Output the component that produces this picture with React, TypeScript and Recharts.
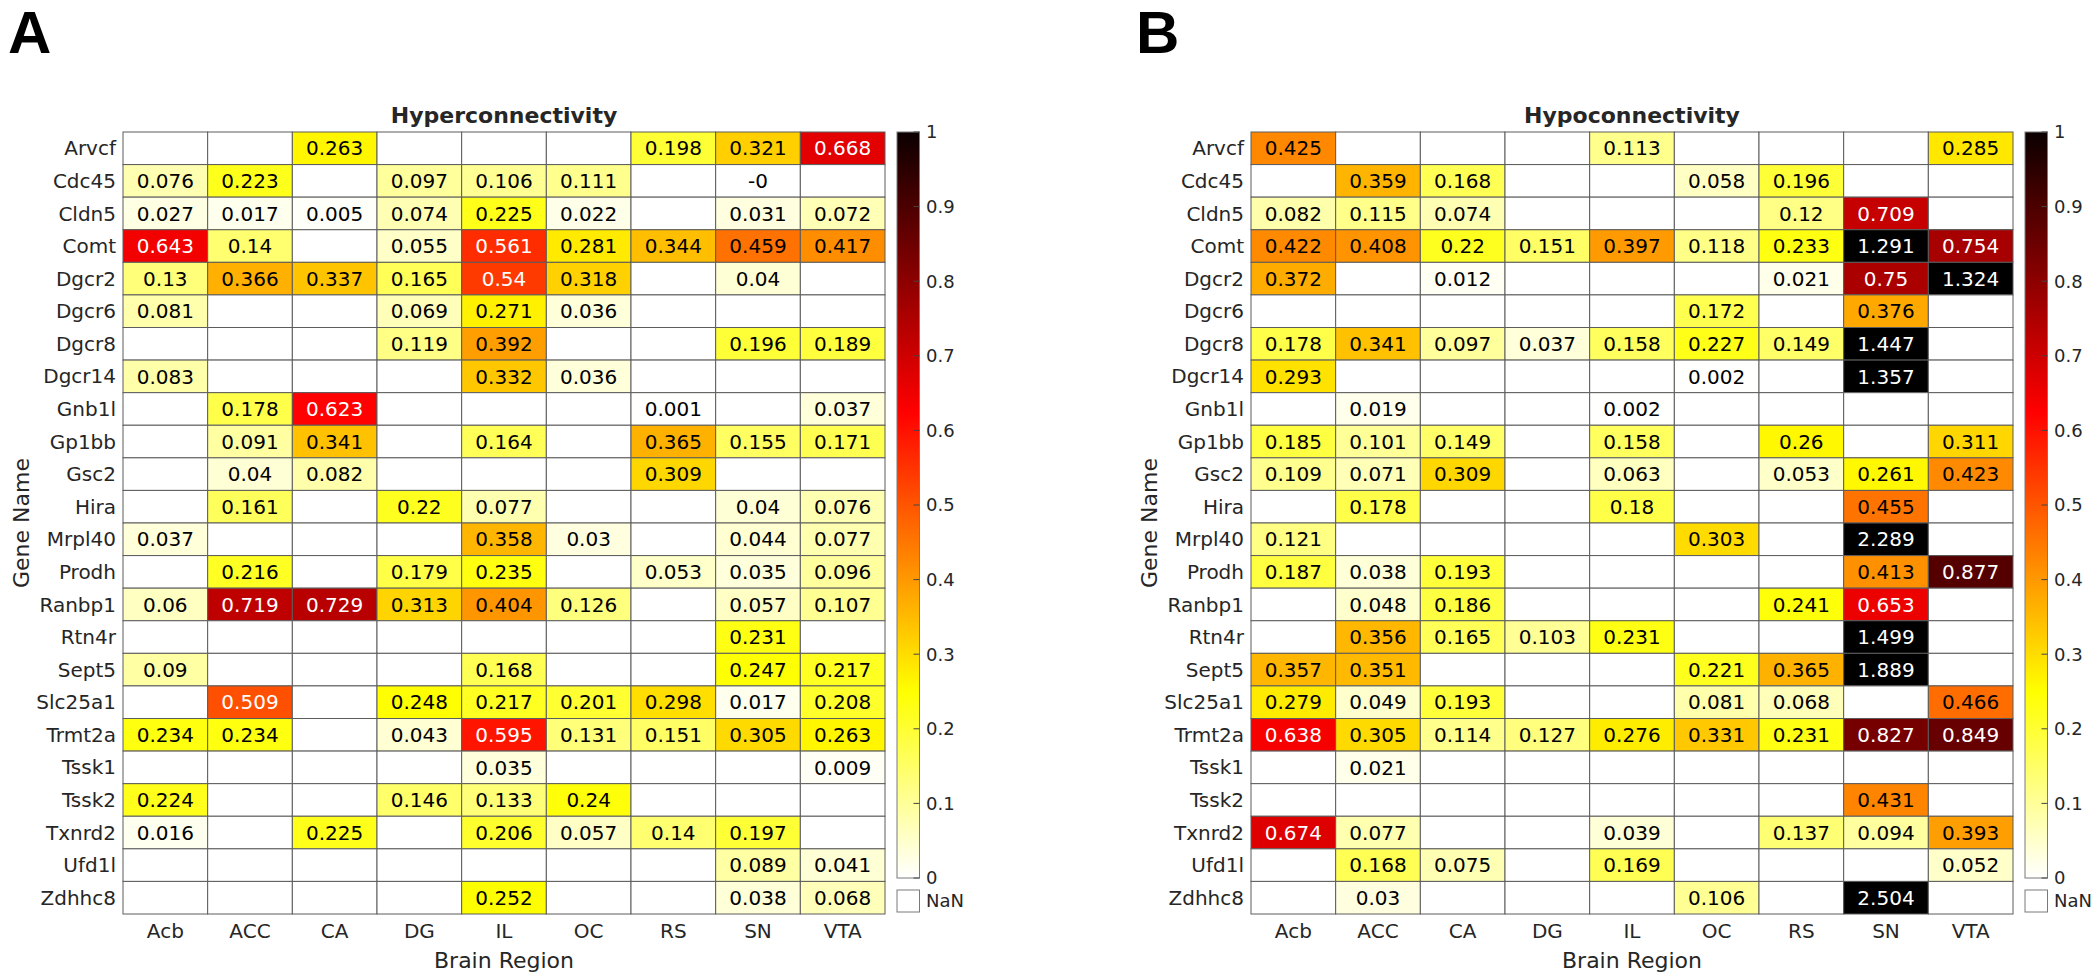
import React from "react";
import { ScatterChart, Scatter, XAxis, YAxis } from "recharts";

const REGIONS = ["Acb", "ACC", "CA", "DG", "IL", "OC", "RS", "SN", "VTA"];
const GENES = [
  "Arvcf", "Cdc45", "Cldn5", "Comt", "Dgcr2", "Dgcr6", "Dgcr8", "Dgcr14",
  "Gnb1l", "Gp1bb", "Gsc2", "Hira", "Mrpl40", "Prodh", "Ranbp1", "Rtn4r",
  "Sept5", "Slc25a1", "Trmt2a", "Tssk1", "Tssk2", "Txnrd2", "Ufd1l", "Zdhhc8",
];
const _ = null;

// rows = genes, columns = regions
const HYPER: (number | null)[][] = [
  [_, _, 0.263, _, _, _, 0.198, 0.321, 0.668],
  [0.076, 0.223, _, 0.097, 0.106, 0.111, _, -0, _],
  [0.027, 0.017, 0.005, 0.074, 0.225, 0.022, _, 0.031, 0.072],
  [0.643, 0.14, _, 0.055, 0.561, 0.281, 0.344, 0.459, 0.417],
  [0.13, 0.366, 0.337, 0.165, 0.54, 0.318, _, 0.04, _],
  [0.081, _, _, 0.069, 0.271, 0.036, _, _, _],
  [_, _, _, 0.119, 0.392, _, _, 0.196, 0.189],
  [0.083, _, _, _, 0.332, 0.036, _, _, _],
  [_, 0.178, 0.623, _, _, _, 0.001, _, 0.037],
  [_, 0.091, 0.341, _, 0.164, _, 0.365, 0.155, 0.171],
  [_, 0.04, 0.082, _, _, _, 0.309, _, _],
  [_, 0.161, _, 0.22, 0.077, _, _, 0.04, 0.076],
  [0.037, _, _, _, 0.358, 0.03, _, 0.044, 0.077],
  [_, 0.216, _, 0.179, 0.235, _, 0.053, 0.035, 0.096],
  [0.06, 0.719, 0.729, 0.313, 0.404, 0.126, _, 0.057, 0.107],
  [_, _, _, _, _, _, _, 0.231, _],
  [0.09, _, _, _, 0.168, _, _, 0.247, 0.217],
  [_, 0.509, _, 0.248, 0.217, 0.201, 0.298, 0.017, 0.208],
  [0.234, 0.234, _, 0.043, 0.595, 0.131, 0.151, 0.305, 0.263],
  [_, _, _, _, 0.035, _, _, _, 0.009],
  [0.224, _, _, 0.146, 0.133, 0.24, _, _, _],
  [0.016, _, 0.225, _, 0.206, 0.057, 0.14, 0.197, _],
  [_, _, _, _, _, _, _, 0.089, 0.041],
  [_, _, _, _, 0.252, _, _, 0.038, 0.068],
];

const HYPO: (number | null)[][] = [
  [0.425, _, _, _, 0.113, _, _, _, 0.285],
  [_, 0.359, 0.168, _, _, 0.058, 0.196, _, _],
  [0.082, 0.115, 0.074, _, _, _, 0.12, 0.709, _],
  [0.422, 0.408, 0.22, 0.151, 0.397, 0.118, 0.233, 1.291, 0.754],
  [0.372, _, 0.012, _, _, _, 0.021, 0.75, 1.324],
  [_, _, _, _, _, 0.172, _, 0.376, _],
  [0.178, 0.341, 0.097, 0.037, 0.158, 0.227, 0.149, 1.447, _],
  [0.293, _, _, _, _, 0.002, _, 1.357, _],
  [_, 0.019, _, _, 0.002, _, _, _, _],
  [0.185, 0.101, 0.149, _, 0.158, _, 0.26, _, 0.311],
  [0.109, 0.071, 0.309, _, 0.063, _, 0.053, 0.261, 0.423],
  [_, 0.178, _, _, 0.18, _, _, 0.455, _],
  [0.121, _, _, _, _, 0.303, _, 2.289, _],
  [0.187, 0.038, 0.193, _, _, _, _, 0.413, 0.877],
  [_, 0.048, 0.186, _, _, _, 0.241, 0.653, _],
  [_, 0.356, 0.165, 0.103, 0.231, _, _, 1.499, _],
  [0.357, 0.351, _, _, _, 0.221, 0.365, 1.889, _],
  [0.279, 0.049, 0.193, _, _, 0.081, 0.068, _, 0.466],
  [0.638, 0.305, 0.114, 0.127, 0.276, 0.331, 0.231, 0.827, 0.849],
  [_, 0.021, _, _, _, _, _, _, _],
  [_, _, _, _, _, _, _, 0.431, _],
  [0.674, 0.077, _, _, 0.039, _, 0.137, 0.094, 0.393],
  [_, 0.168, 0.075, _, 0.169, _, _, _, 0.052],
  [_, 0.03, _, _, _, 0.106, _, 2.504, _],
];

const CBAR_TICKS = [0, 0.1, 0.2, 0.3, 0.4, 0.5, 0.6, 0.7, 0.8, 0.9, 1];

const FONT = "'DejaVu Sans', sans-serif";
const LABEL = "#262626";
const GRID = "#5c5c5c";

// layout (inside one panel)
const PANEL_W = 972;
const H = 980;
const PLOT_L = 123;
const PLOT_R = 885;
const PLOT_T = 132;
const PLOT_B = 914;
const Y_AXIS_W = 110;
const X_AXIS_H = 30;
const CELL_W = (PLOT_R - PLOT_L) / REGIONS.length;
const CELL_H = (PLOT_B - PLOT_T) / GENES.length;
const CB_X = 897;
const CB_W = 22.5;
const CB_TOP = 132;
const CB_BOT = 878;

// flipped "hot" colormap: white -> yellow -> red -> black
function hotR(v: number) {
  const t = 1 - Math.max(0, Math.min(1, v));
  const r = Math.min(1, t / 0.375);
  const g = Math.max(0, Math.min(1, (t - 0.375) / 0.375));
  const b = Math.max(0, Math.min(1, (t - 0.75) / 0.25));
  return `rgb(${Math.round(r * 255)},${Math.round(g * 255)},${Math.round(b * 255)})`;
}

function fmt(v: number) {
  return Object.is(v, -0) ? "-0" : String(v);
}

const HeatCell = (props: any) => {
  const { cx, cy, payload } = props;
  const v = payload.v;
  return (
    <g>
      <rect
        x={cx - CELL_W / 2}
        y={cy - CELL_H / 2}
        width={CELL_W}
        height={CELL_H}
        fill={v == null ? "#ffffff" : hotR(v)}
        stroke={GRID}
        strokeWidth={1}
      />
      {v != null && (
        <text
          x={cx}
          y={cy}
          dy="0.36em"
          textAnchor="middle"
          fontSize={20}
          fontFamily={FONT}
          fill={v > 0.5 ? "#ffffff" : "#000000"}
        >
          {fmt(v)}
        </text>
      )}
    </g>
  );
};

function Panel({ left, letter, title, values, gid }: any) {
  const data = values.flatMap((row: (number | null)[], gi: number) =>
    row.map((v, ri) => ({ x: ri, y: gi, v }))
  );
  const cbY = (t: number) => CB_BOT - t * (CB_BOT - CB_TOP);
  return (
    <div style={{ position: "absolute", left, top: 0, width: PANEL_W, height: H }}>
      <ScatterChart
        width={PANEL_W}
        height={H}
        margin={{
          top: PLOT_T,
          right: PANEL_W - PLOT_R,
          bottom: H - PLOT_B - X_AXIS_H,
          left: PLOT_L - Y_AXIS_W,
        }}
      >
        <XAxis
          type="number"
          dataKey="x"
          domain={[-0.5, REGIONS.length - 0.5]}
          ticks={REGIONS.map((_r, i) => i)}
          tickFormatter={(i: number) => REGIONS[i]}
          interval={0}
          axisLine={false}
          tickLine={false}
          tickSize={0}
          tickMargin={10}
          height={X_AXIS_H}
          tick={{ fontSize: 20, fill: LABEL, fontFamily: FONT }}
        />
        <YAxis
          type="number"
          dataKey="y"
          reversed
          domain={[-0.5, GENES.length - 0.5]}
          ticks={GENES.map((_g, i) => i)}
          tickFormatter={(i: number) => GENES[i]}
          interval={0}
          axisLine={false}
          tickLine={false}
          tickSize={0}
          tickMargin={7}
          width={Y_AXIS_W}
          tick={{ fontSize: 20, fill: LABEL, fontFamily: FONT }}
        />
        <Scatter data={data} shape={HeatCell} isAnimationActive={false} />
      </ScatterChart>
      <svg
        width={PANEL_W}
        height={H}
        style={{ position: "absolute", left: 0, top: 0, pointerEvents: "none" }}
        fontFamily={FONT}
      >
        <defs>
          <linearGradient id={gid} x1="0" y1="1" x2="0" y2="0">
            <stop offset="0" stopColor={hotR(0)} />
            <stop offset="0.25" stopColor={hotR(0.25)} />
            <stop offset="0.625" stopColor={hotR(0.625)} />
            <stop offset="1" stopColor="rgb(11,0,0)" />
          </linearGradient>
        </defs>
        <text x={8} y={53} fontSize={60} fontWeight="bold" fontFamily="'Liberation Sans', Arial, sans-serif" fill="#000">
          {letter}
        </text>
        <text x={(PLOT_L + PLOT_R) / 2} y={123} textAnchor="middle" fontSize={22} fontWeight="bold" fill={LABEL}>
          {title}
        </text>
        <text x={(PLOT_L + PLOT_R) / 2} y={968} textAnchor="middle" fontSize={22} fill={LABEL}>
          Brain Region
        </text>
        <text
          x={29}
          y={(PLOT_T + PLOT_B) / 2}
          textAnchor="middle"
          fontSize={22}
          fill={LABEL}
          transform={`rotate(-90, 29, ${(PLOT_T + PLOT_B) / 2})`}
        >
          Gene Name
        </text>
        <rect x={CB_X} y={CB_TOP} width={CB_W} height={CB_BOT - CB_TOP} fill={`url(#${gid})`} stroke="#7a7a7a" strokeWidth={1} />
        {CBAR_TICKS.map((t) => (
          <g key={t}>
            <line x1={CB_X + CB_W - 6} x2={CB_X + CB_W} y1={cbY(t)} y2={cbY(t)} stroke="#444" strokeWidth={1} />
            <text x={926} y={cbY(t)} dy="0.36em" fontSize={18} fill={LABEL}>
              {String(t)}
            </text>
          </g>
        ))}
        <rect x={CB_X} y={890} width={CB_W} height={22} fill="#fff" stroke="#7a7a7a" strokeWidth={1} />
        <text x={926} y={901} dy="0.36em" fontSize={18} fill={LABEL}>
          NaN
        </text>
      </svg>
    </div>
  );
}

export default function App() {
  return (
    <div
      style={{
        position: "absolute",
        left: 0,
        top: 0,
        width: 2100,
        height: 980,
        background: "#fff",
        overflow: "hidden",
        fontFamily: FONT,
      }}
    >
      <Panel left={0} letter="A" title="Hyperconnectivity" values={HYPER} gid="cbA" />
      <Panel left={1128} letter="B" title="Hypoconnectivity" values={HYPO} gid="cbB" />
    </div>
  );
}
